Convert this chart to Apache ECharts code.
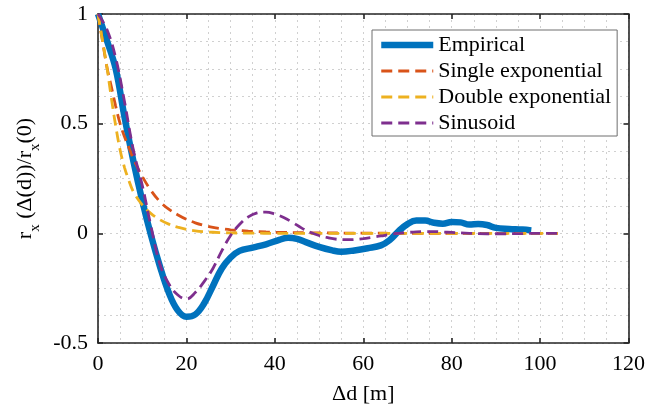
<!DOCTYPE html>
<html>
<head>
<meta charset="utf-8">
<script src="https://cdn.jsdelivr.net/npm/echarts@6/dist/echarts.min.js"></script>
<style>
  html, body { margin: 0; padding: 0; background: #fff; }
  #chart { width: 648px; height: 410px; }
</style>
</head>
<body>
<div id="chart"></div>
<script>
// values
const empX = [0, 2, 4, 6, 8, 10, 12, 14, 16, 18, 20, 22, 24, 26, 28, 30, 32, 35, 38, 41, 43, 45, 47, 50, 53, 55, 58, 61, 64, 66, 68, 70, 72, 74, 76, 78, 80, 82, 84, 86, 88, 90, 93, 96, 98];
const empY = [1, 0.88, 0.75, 0.53, 0.33, 0.15, -0.01, -0.15, -0.27, -0.35, -0.38, -0.37, -0.32, -0.24, -0.16, -0.11, -0.08, -0.065, -0.05, -0.03, -0.02, -0.025, -0.04, -0.062, -0.078, -0.084, -0.078, -0.068, -0.055, -0.03, 0.01, 0.042, 0.058, 0.058, 0.048, 0.044, 0.052, 0.05, 0.04, 0.043, 0.038, 0.025, 0.02, 0.017, 0.013];

const singleX = [0, 1, 2, 3, 4, 5, 6, 7, 8, 10, 12, 14, 16, 18, 20, 22, 24, 26, 28, 30, 34, 38, 42, 50, 60, 70, 80, 90, 104];
const singleY = [1, 0.88, 0.76, 0.67, 0.58, 0.5, 0.44, 0.39, 0.34, 0.26, 0.195, 0.145, 0.11, 0.085, 0.064, 0.048, 0.036, 0.027, 0.021, 0.016, 0.01, 0.006, 0.004, 0.002, 0.001, 0, 0, 0, 0];

const doubleX = [0, 1, 2, 3, 4, 5, 6, 7, 8, 10, 12, 14, 16, 18, 20, 22, 24, 26, 30, 35, 40, 50, 60, 80, 104];
const doubleY = [1, 0.88, 0.76, 0.62, 0.49, 0.38, 0.3, 0.24, 0.19, 0.13, 0.09, 0.062, 0.042, 0.028, 0.018, 0.011, 0.007, 0.005, 0.002, 0.001, 0, 0, 0, 0, 0];

const sinX = [0, 2, 4, 6, 8, 10, 12, 14, 16, 18, 20, 22, 24, 26, 28, 30, 32, 34, 36, 38, 40, 42, 44, 46, 48, 50, 52, 54, 56, 58, 60, 62, 64, 66, 68, 70, 72, 74, 76, 78, 80, 84, 88, 92, 96, 100, 104];
const sinY = [1, 0.93, 0.8, 0.6, 0.38, 0.22, 0.03, -0.14, -0.23, -0.28, -0.3, -0.27, -0.22, -0.16, -0.08, -0.01, 0.04, 0.075, 0.093, 0.097, 0.088, 0.072, 0.05, 0.025, 0.005, -0.01, -0.02, -0.027, -0.029, -0.028, -0.024, -0.018, -0.012, -0.005, 0, 0.004, 0.007, 0.008, 0.008, 0.006, 0.004, 0, -0.002, -0.002, -0.001, 0, 0];

const seriesNames = ['Empirical', 'Single exponential', 'Double exponential', 'Sinusoid'];
const xTicks = [0, 120, 20];     // min, max, interval
const yTicks = [-0.5, 1, 0.5];

const zip = (xs, ys) => xs.map((x, i) => [x, ys[i]]);

const FONT = 'Liberation Serif';
const AXIS_COLOR = '#262626';

const gridLines = {
  show: true,
  lineStyle: { color: '#d0d0d0', type: [2, 4], width: 1 }
};

function makeAxis(range, extra) {
  return Object.assign({
    type: 'value',
    min: range[0],
    max: range[1],
    interval: range[2],
    axisLine: { show: true, onZero: false, lineStyle: { color: AXIS_COLOR, width: 1.6 } },
    axisTick: { show: true, inside: true, length: 5, lineStyle: { color: AXIS_COLOR, width: 1.6 } },
    minorTick: { show: false, splitNumber: 4 },
    splitLine: gridLines,
    minorSplitLine: gridLines,
    axisLabel: { show: false }
  }, extra);
}

const labelStyle = { show: true, color: '#000', fontFamily: FONT, fontSize: 22 };

const option = {
  animation: false,
  backgroundColor: '#fff',
  grid: { left: 98, right: 18, top: 14, bottom: 65, containLabel: false },
  legend: {
    orient: 'vertical',
    left: 372,
    top: 30,
    data: seriesNames,
    itemWidth: 52,
    itemHeight: 14,
    itemGap: 4,
    padding: [4, 6, 2, 6],
    backgroundColor: '#fff',
    borderColor: '#6e6e6e',
    borderWidth: 1,
    borderRadius: 0,
    itemStyle: { opacity: 0 },
    lineStyle: { width: 'inherit', type: 'inherit' },
    textStyle: { fontFamily: FONT, fontSize: 22, color: '#000' }
  },
  xAxis: [
    makeAxis(xTicks, {
      position: 'bottom',
      axisLabel: Object.assign({ margin: 10 }, labelStyle),
      name: 'Δd [m]',
      nameLocation: 'middle',
      nameGap: 40,
      nameTextStyle: { fontFamily: FONT, fontSize: 22, color: '#000' }
    }),
    makeAxis(xTicks, { position: 'top', splitLine: { show: false }, minorSplitLine: { show: false } })
  ],
  yAxis: [
    makeAxis(yTicks, {
      position: 'left',
      axisLabel: Object.assign({ margin: 10 }, labelStyle),
      name: '{n|r}{s|x}{n| (Δ(d))/r}{s|x}{n|(0)}',
      nameLocation: 'middle',
      nameRotate: 90,
      nameGap: 48,
      nameTextStyle: {
        fontFamily: FONT,
        color: '#000',
        rich: {
          n: { fontFamily: FONT, fontSize: 22, color: '#000', verticalAlign: 'bottom', padding: [0, 0, 6, 0] },
          s: { fontFamily: FONT, fontSize: 15, color: '#000', verticalAlign: 'bottom' }
        }
      }
    }),
    makeAxis(yTicks, { position: 'right', splitLine: { show: false }, minorSplitLine: { show: false } })
  ],
  series: [
    {
      name: seriesNames[0], type: 'line', data: zip(empX, empY), showSymbol: false, symbol: 'none',
      smooth: 0.4, color: '#0072BD', lineStyle: { color: '#0072BD', width: 6.5 }
    },
    {
      name: seriesNames[1], type: 'line', data: zip(singleX, singleY), showSymbol: false, symbol: 'none',
      smooth: 0.4, color: '#D95319', lineStyle: { color: '#D95319', width: 2.8, type: [11, 6] }
    },
    {
      name: seriesNames[2], type: 'line', data: zip(doubleX, doubleY), showSymbol: false, symbol: 'none',
      smooth: 0.4, color: '#EDB120', lineStyle: { color: '#EDB120', width: 2.8, type: [11, 6] }
    },
    {
      name: seriesNames[3], type: 'line', data: zip(sinX, sinY), showSymbol: false, symbol: 'none',
      smooth: 0.4, color: '#7E2F8E', lineStyle: { color: '#7E2F8E', width: 2.8, type: [11, 6] }
    }
  ]
};

const chart = echarts.init(document.getElementById('chart'), null, { renderer: 'canvas' });
chart.setOption(option);
</script>
</body>
</html>
